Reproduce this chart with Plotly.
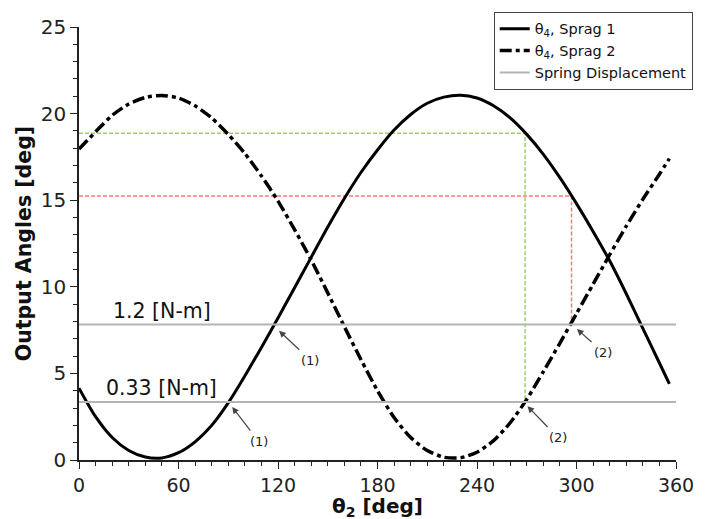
import plotly.graph_objects as go

# ---- data ----
theta = [0, 10, 20, 30, 40, 50, 60, 70, 80, 90, 100, 110, 120, 130, 140, 150, 160, 170,
         180, 190, 200, 210, 220, 230, 240, 250, 260, 270, 280, 290, 300, 310, 320, 330,
         340, 350, 356]
sprag1 = [4.15, 2.5, 1.3, 0.55, 0.17, 0.12, 0.42, 1.05, 2.0, 3.3, 4.85, 6.5, 8.2, 9.95,
          11.7, 13.45, 15.1, 16.6, 17.9, 19.05, 19.95, 20.6, 20.95, 21.06, 20.9, 20.45,
          19.75, 18.8, 17.65, 16.3, 14.8, 13.2, 11.5, 9.6, 7.6, 5.6, 4.4]
sprag2 = [17.95, 18.95, 19.9, 20.55, 20.93, 21.05, 20.9, 20.45, 19.75, 18.8, 17.7, 16.4,
          14.95, 13.3, 11.55, 9.65, 7.7, 5.8, 4.0, 2.45, 1.3, 0.55, 0.16, 0.13, 0.45, 1.12,
          2.15, 3.5, 5.1, 6.75, 8.45, 10.15, 11.85, 13.5, 15.05, 16.5, 17.4]

spring_levels = [7.82, 3.35]          # spring displacement lines (1.2 and 0.33 N-m)
spring_labels = ["1.2 [N-m]", "0.33 [N-m]"]
x_range = [0, 360]

green_theta, green_top = 269, 18.86   # construction line for 0.33 N-m
red_theta, red_top = 297, 15.24       # construction line for 1.2 N-m

# arrow annotations: (theta, value, label, dx, dy)
arrows = [(92, 3.1, "(1)", 27, 35),
          (120.2, 7.5, "(1)", 32, 30),
          (270, 3.15, "(2)", 31, 32),
          (299.8, 7.6, "(2)", 27, 24)]

x_ticks = [0, 60, 120, 180, 240, 300, 360]
x_title = "<b>θ<sub>2</sub> [deg]</b>"
y_title = "<b>Output Angles [deg]</b>"

FONT = "DejaVu Sans"

fig = go.Figure()

# construction lines (green / red)
fig.add_trace(go.Scatter(
    x=[x_range[0], green_theta, green_theta], y=[green_top, green_top, spring_levels[1]],
    mode="lines", line=dict(color="#9fd066", width=1.5, dash="4px,2px"),
    showlegend=False, hoverinfo="skip"))
fig.add_trace(go.Scatter(
    x=[x_range[0], red_theta, red_theta], y=[red_top, red_top, spring_levels[0]],
    mode="lines", line=dict(color="#ff7b7b", width=1.5, dash="4px,2px"),
    showlegend=False, hoverinfo="skip"))

# main curves
fig.add_trace(go.Scatter(
    x=theta, y=sprag1, mode="lines", name="θ<sub>4</sub>, Sprag 1",
    line=dict(color="black", width=3, shape="spline", smoothing=0.7)))
fig.add_trace(go.Scatter(
    x=theta, y=sprag2, mode="lines", name="θ<sub>4</sub>, Sprag 2",
    line=dict(color="black", width=3.5, dash="12px,4px,4px,4px",
              shape="spline", smoothing=0.7)))

# spring displacement lines
sx, sy = [], []
for lv in spring_levels:
    sx += [x_range[0], x_range[1], None]
    sy += [lv, lv, None]
fig.add_trace(go.Scatter(
    x=sx, y=sy, mode="lines", name="Spring Displacement",
    line=dict(color="#b4b4b4", width=2)))

# labels on spring lines
for lv, txt in zip(spring_levels, spring_labels):
    fig.add_annotation(x=50, y=lv, text=txt, showarrow=False, xanchor="center",
                       yanchor="bottom", yshift=0,
                       font=dict(family=FONT, size=20.5, color="#111"))

for (ax_, ay_, txt, dx, dy) in arrows:
    fig.add_annotation(x=ax_, y=ay_, text=txt, showarrow=True, ax=dx, ay=dy,
                       arrowhead=2, arrowsize=1.1, arrowwidth=1.2, arrowcolor="#444",
                       standoff=1, startstandoff=2,
                       font=dict(family=FONT, size=13, color="#222"))

# x-axis title as a paper annotation
fig.add_annotation(x=0.5, y=-0.108, xref="paper", yref="paper", text=x_title,
                   showarrow=False, xanchor="center", yanchor="middle",
                   font=dict(family=FONT, size=20, color="#111"))

fig.update_layout(
    width=705, height=519,
    margin=dict(l=79, r=29, t=20, b=59),
    plot_bgcolor="white", paper_bgcolor="white",
    font=dict(family=FONT, color="#222"),
    legend=dict(x=1.028, y=1.035, xanchor="right", yanchor="top",
                bordercolor="#444", borderwidth=1, bgcolor="white",
                font=dict(family=FONT, size=14.5, color="#111"),
                tracegroupgap=0),
    showlegend=True,
)
fig.update_xaxes(
    range=x_range, tickvals=x_ticks, showgrid=False, zeroline=False,
    showline=True, linecolor="#222", linewidth=1.5, automargin=False,
    ticks="outside", ticklen=7, tickcolor="#222",
    minor=dict(dtick=10, ticks="outside", ticklen=4, tickcolor="#222", showgrid=False),
    tickfont=dict(family=FONT, size=19, color="#222"))
fig.update_yaxes(
    range=[0, 25], dtick=5, showgrid=False, zeroline=False,
    showline=True, linecolor="#222", linewidth=1.5, automargin=False,
    ticks="outside", ticklen=7, tickcolor="#222",
    minor=dict(dtick=1, ticks="outside", ticklen=4, tickcolor="#222", showgrid=False),
    tickfont=dict(family=FONT, size=20, color="#222"),
    title=dict(text=y_title, font=dict(family=FONT, size=20.5, color="#111"),
               standoff=4))

fig.write_html("out.html")
